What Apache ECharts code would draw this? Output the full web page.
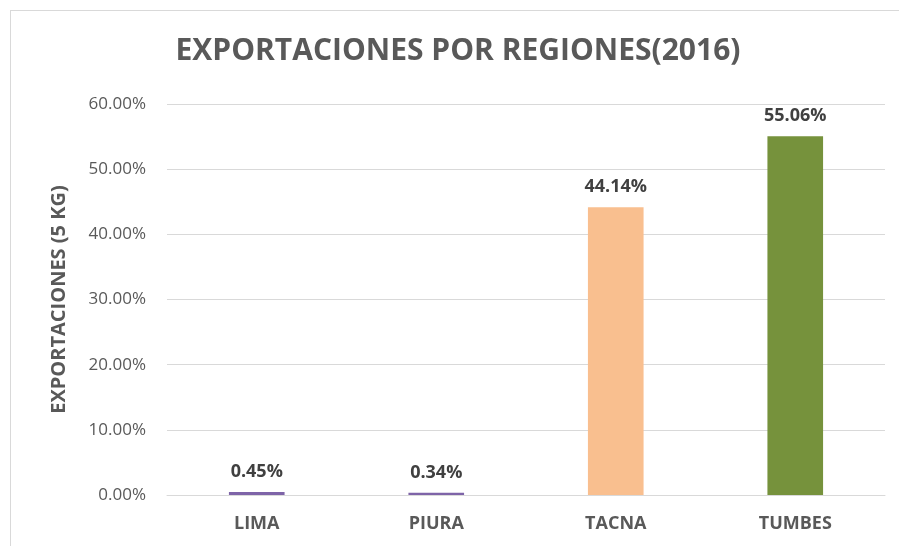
<!DOCTYPE html>
<html>
<head>
<meta charset="utf-8">
<script src="https://cdn.jsdelivr.net/npm/echarts@6/dist/echarts.min.js"></script>
<style>
html, body { margin: 0; padding: 0; background: #fff; }
#frame { position: absolute; left: 10px; top: 10px; width: 895px; height: 545px; border: 1px solid #d9d9d9; }
#chart { position: absolute; left: 0; top: 0; width: 899px; height: 546px; }
</style>
</head>
<body>
<div id="frame"></div>
<div id="chart"></div>
<script>
var regions = ['LIMA', 'PIURA', 'TACNA', 'TUMBES'];
var shares = [0.45, 0.34, 44.14, 55.06];
var barColors = ['#7e64a8', '#7e64a8', '#f9bf8f', '#76923c'];

var dom = document.getElementById('chart');
var myChart = echarts.init(dom);

var option = {
    animation: false,
    title: {
        text: 'EXPORTACIONES POR REGIONES(2016)',
        left: 453,
        textAlign: 'center',
        top: 31,
        textStyle: {
            fontFamily: 'Open Sans',
            fontSize: 30,
            fontWeight: 'bold',
            color: '#595959'
        }
    },
    grid: {
        left: 167,
        right: 14,
        top: 104,
        bottom: 51
    },
    xAxis: {
        type: 'category',
        data: regions,
        axisLine: { lineStyle: { color: '#d9d9d9' } },
        axisTick: { show: false },
        axisLabel: {
            margin: 20,
            fontFamily: 'Open Sans',
            fontSize: 18,
            fontWeight: 'bold',
            color: '#595959'
        }
    },
    yAxis: {
        type: 'value',
        min: 0,
        max: 60,
        interval: 10,
        name: 'EXPORTACIONES (5 KG)',
        nameLocation: 'middle',
        nameGap: 98,
        nameTextStyle: {
            fontFamily: 'Open Sans',
            fontSize: 20,
            fontWeight: 'bold',
            color: '#595959'
        },
        axisLine: { show: false },
        axisTick: { show: false },
        splitLine: { lineStyle: { color: '#d9d9d9' } },
        axisLabel: {
            margin: 21,
            fontFamily: 'Open Sans',
            fontSize: 17,
            color: '#595959',
            formatter: function (v) { return v.toFixed(2) + '%'; }
        }
    },
    series: [{
        type: 'bar',
        barWidth: '31%',
        data: shares.map(function (v, i) {
            return { value: v, itemStyle: { color: barColors[i] } };
        }),
        label: {
            show: true,
            position: 'top',
            distance: 11,
            fontFamily: 'Open Sans',
            fontSize: 18,
            fontWeight: 'bold',
            color: '#404040',
            formatter: function (p) { return p.value.toFixed(2) + '%'; }
        }
    }]
};
myChart.setOption(option, true);
</script>
</body>
</html>
